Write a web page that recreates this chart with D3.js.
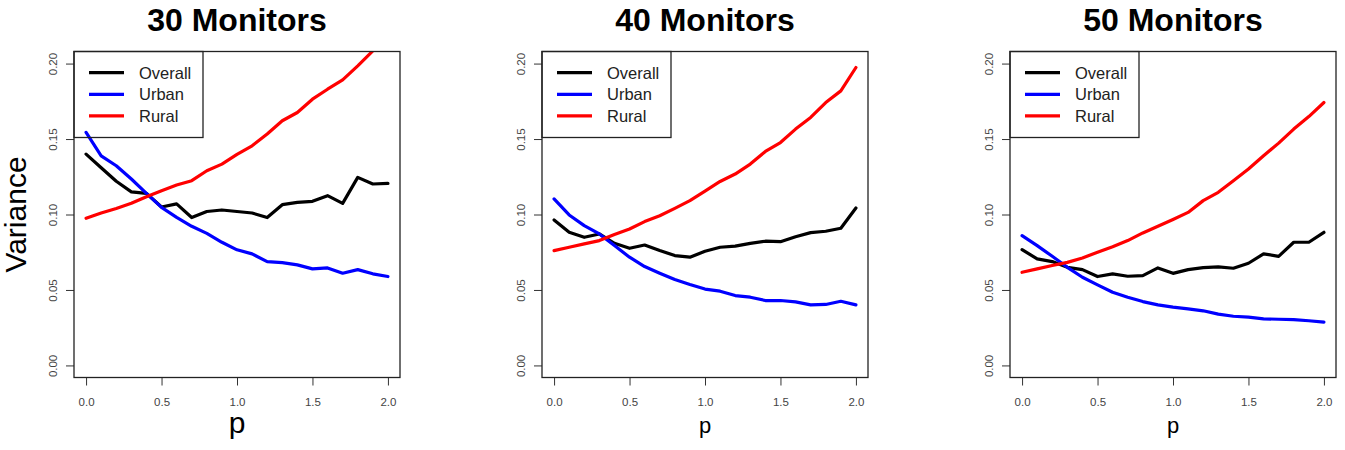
<!DOCTYPE html>
<html>
<head>
<meta charset="utf-8">
<script src="https://d3js.org/d3.v7.min.js"></script>
<style>
body { margin: 0; background: #fff; }
svg { display: block; font-family: "Liberation Sans", Arial, Helvetica, sans-serif; }
.frame { fill: none; stroke: #222; stroke-width: 1.3px; }
.series { fill: none; stroke-width: 3.2px; stroke-linejoin: round; stroke-linecap: round; }
.axis text { font-size: 11.5px; fill: #444; }
.axis line { stroke: #333; stroke-width: 1px; }
</style>
<title>Variance vs p</title>
</head>
<body>
<script>
var pValues = [0.0, 0.1, 0.2, 0.3, 0.4, 0.5, 0.6, 0.7, 0.8, 0.9, 1.0,
               1.1, 1.2, 1.3, 1.4, 1.5, 1.6, 1.7, 1.8, 1.9, 2.0];
var titles = ["30 Monitors", "40 Monitors", "50 Monitors"];
var seriesNames = ["Overall", "Urban", "Rural"];
var seriesColors = ["#000000", "#0000ff", "#ff0000"];
var xTicks = [0, 0.5, 1, 1.5, 2];
var yTicks = [0, 0.05, 0.1, 0.15, 0.2];

// 30 monitors
var overall30 = [0.140, 0.131, 0.122, 0.115, 0.114, 0.105, 0.107, 0.098, 0.102, 0.103, 0.102,
                 0.101, 0.098, 0.1065, 0.108, 0.1087, 0.1125, 0.1074, 0.1246, 0.1202, 0.1206];
var urban30   = [0.1544, 0.1389, 0.1323, 0.1235, 0.114, 0.1047, 0.0981, 0.0922, 0.0875, 0.0816, 0.0766,
                 0.0739, 0.0688, 0.0681, 0.0666, 0.064, 0.0646, 0.0611, 0.0635, 0.0607, 0.0589];
var rural30   = [0.0975, 0.101, 0.104, 0.1074, 0.1118, 0.1158, 0.1195, 0.1224, 0.129, 0.1334, 0.1398,
                 0.1455, 0.1533, 0.1621, 0.1676, 0.1764, 0.183, 0.1892, 0.1985, 0.2084, 0.219];

// 40 monitors
var overall40 = [0.0964, 0.0882, 0.0849, 0.0871, 0.0809, 0.0776, 0.0798, 0.0761, 0.0728, 0.0717, 0.0756,
                 0.0783, 0.079, 0.0809, 0.0823, 0.082, 0.0853, 0.088, 0.0889, 0.0909, 0.1043];
var urban40   = [0.1103, 0.0997, 0.0926, 0.0871, 0.0794, 0.0717, 0.0655, 0.0611, 0.0569, 0.0536, 0.0506,
                 0.0492, 0.0463, 0.0452, 0.043, 0.043, 0.0421, 0.0401, 0.0404, 0.0425, 0.0401];
var rural40   = [0.0761, 0.0783, 0.0805, 0.0827, 0.0867, 0.0904, 0.0953, 0.0992, 0.1041, 0.1092, 0.1155,
                 0.1219, 0.1268, 0.1334, 0.1418, 0.1477, 0.1566, 0.1643, 0.1742, 0.1819, 0.1974];

// 50 monitors
var overall50 = [0.0767, 0.0706, 0.0688, 0.065, 0.0635, 0.0589, 0.0607, 0.0591, 0.0595, 0.0646, 0.061,
                 0.0635, 0.0648, 0.0653, 0.0644, 0.0677, 0.0739, 0.0723, 0.0816, 0.0816, 0.0882];
var urban50   = [0.086, 0.0794, 0.0723, 0.065, 0.0584, 0.0534, 0.0485, 0.0452, 0.0423, 0.0401, 0.0386,
                 0.0375, 0.0362, 0.034, 0.0326, 0.032, 0.0309, 0.0306, 0.0304, 0.0296, 0.0287];
var rural50   = [0.0617, 0.064, 0.0662, 0.0683, 0.0712, 0.075, 0.0787, 0.0827, 0.0878, 0.0922, 0.0967,
                 0.1014, 0.1092, 0.1147, 0.1224, 0.1301, 0.1389, 0.1473, 0.1566, 0.1649, 0.1742];

var panels = [
  {title: titles[0], series: [overall30, urban30, rural30]},
  {title: titles[1], series: [overall40, urban40, rural40]},
  {title: titles[2], series: [overall50, urban50, rural50]}
];

var width = 1345, height = 450;
var pw = 326, ph = 326, plotTop = 51.5;
var lefts = [74, 542, 1010];

var svg = d3.select("body").append("svg")
    .attr("width", width)
    .attr("height", height);

// R style: 4% padding around xlim [0,2] and ylim [0,0.2]
var x = d3.scaleLinear().domain([-0.08, 2.08]).range([0, pw]);
var y = d3.scaleLinear().domain([-0.008, 0.208]).range([ph, 0]);

var line = d3.line()
    .x(function(d, i) { return x(pValues[i]); })
    .y(function(d) { return y(d); });

panels.forEach(function(panel, k) {
  var g = svg.append("g")
      .attr("transform", "translate(" + lefts[k] + "," + plotTop + ")");

  g.append("clipPath")
      .attr("id", "clip" + k)
    .append("rect")
      .attr("width", pw)
      .attr("height", ph);

  g.append("text")
      .attr("x", pw / 2)
      .attr("y", 31 - plotTop)
      .attr("text-anchor", "middle")
      .style("font-size", "32px")
      .style("font-weight", "bold")
      .text(panel.title);

  var xAxis = g.append("g")
      .attr("class", "axis")
      .attr("transform", "translate(0," + ph + ")")
      .call(d3.axisBottom(x).tickValues(xTicks).tickFormat(d3.format(".1f")).tickSize(8));
  xAxis.select(".domain").remove();
  xAxis.selectAll("text").attr("y", 28).attr("dy", 0);

  var yAxis = g.append("g")
      .attr("class", "axis")
      .call(d3.axisLeft(y).tickValues(yTicks).tickFormat(d3.format(".2f")).tickSize(8));
  yAxis.select(".domain").remove();
  yAxis.selectAll("text")
      .attr("transform", "rotate(-90)")
      .attr("x", 0)
      .attr("y", -17)
      .attr("dy", 0)
      .attr("text-anchor", "middle");

  g.append("g")
      .attr("clip-path", "url(#clip" + k + ")")
    .selectAll("path")
      .data(panel.series)
    .enter().append("path")
      .attr("class", "series")
      .style("stroke", function(d, i) { return seriesColors[i]; })
      .attr("d", line);

  g.append("rect")
      .attr("class", "frame")
      .attr("width", pw)
      .attr("height", ph);

  // legend
  var leg = g.append("g");
  leg.append("rect")
      .attr("class", "frame")
      .attr("width", 129)
      .attr("height", 86);
  var rows = leg.selectAll(".row")
      .data(seriesNames)
    .enter().append("g")
      .attr("class", "row")
      .attr("transform", function(d, i) { return "translate(0," + (21.2 + i * 21.6) + ")"; });
  rows.append("line")
      .attr("x1", 15).attr("x2", 50)
      .style("stroke", function(d, i) { return seriesColors[i]; })
      .style("stroke-width", 3.2);
  rows.append("text")
      .attr("x", 65)
      .attr("y", 6)
      .style("font-size", "16.5px")
      .style("fill", "#222")
      .text(function(d) { return d; });

  g.append("text")
      .attr("x", pw / 2)
      .attr("y", 433 - plotTop)
      .attr("text-anchor", "middle")
      .style("font-size", k === 0 ? "30px" : "22px")
      .text("p");

  if (k === 0) {
    g.append("text")
        .attr("transform", "rotate(-90)")
        .attr("x", -ph / 2)
        .attr("y", 26 - lefts[0])
        .attr("text-anchor", "middle")
        .style("font-size", "30px")
        .text("Variance");
  }
});
</script>
</body>
</html>
